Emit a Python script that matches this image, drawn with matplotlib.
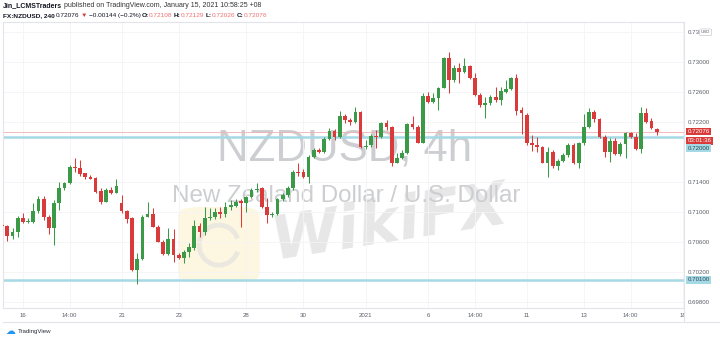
import matplotlib
matplotlib.use("Agg")
import matplotlib.pyplot as plt
from matplotlib.patches import Rectangle, FancyBboxPatch, Arc
from matplotlib.lines import Line2D

# 4h candles, NZDUSD, mid Dec 2020 -> 15 Jan 2021
opens = [
    0.70830, 0.70817, 0.70684, 0.70742, 0.70920, 0.70871, 0.70875, 0.71022, 0.71173, 0.70942,
    0.70795, 0.71120, 0.71320, 0.71386, 0.71608, 0.71586, 0.71520, 0.71475, 0.71453, 0.71288,
    0.71142, 0.71297, 0.71262, 0.71128, 0.71017, 0.70920, 0.70231, 0.70373, 0.70942, 0.70977,
    0.70808, 0.70608, 0.70440, 0.70640, 0.70431, 0.70386, 0.70475, 0.70520, 0.70817, 0.70742,
    0.70920, 0.70942, 0.71009, 0.70977, 0.71075, 0.71089, 0.71155, 0.71128, 0.71200, 0.71297,
    0.71320, 0.71075, 0.70964, 0.70977, 0.71173, 0.71231, 0.71320, 0.71542, 0.71542, 0.71475,
    0.71742, 0.71831, 0.71808, 0.71973, 0.72088, 0.71999, 0.72284, 0.72230, 0.72208, 0.72341,
    0.71866, 0.71897, 0.72017, 0.71999, 0.72195, 0.72133, 0.71661, 0.71719, 0.71786, 0.72177,
    0.72133, 0.71928, 0.72550, 0.72475, 0.72519, 0.72661, 0.73053, 0.72764, 0.72919, 0.72875,
    0.72950, 0.72786, 0.72564, 0.72430, 0.72453, 0.72541, 0.72497, 0.72608, 0.72639, 0.72786,
    0.72364, 0.72297, 0.71919, 0.71893, 0.71866, 0.71661, 0.71808, 0.71617, 0.71688, 0.71764,
    0.71897, 0.71661, 0.71919, 0.72133, 0.72341, 0.72239, 0.72008, 0.71808, 0.71955, 0.71777,
    0.71910, 0.72053, 0.72008, 0.71839, 0.72320, 0.72222, 0.72108,
]
highs = [
    0.70835, 0.70831, 0.70786, 0.70951, 0.70995, 0.70920, 0.71128, 0.71217, 0.71217, 0.70964,
    0.71164, 0.71408, 0.71408, 0.71631, 0.71720, 0.71697, 0.71528, 0.71497, 0.71475, 0.71320,
    0.71320, 0.71342, 0.71440, 0.71231, 0.71031, 0.70933, 0.70453, 0.70964, 0.71142, 0.71053,
    0.70831, 0.70631, 0.70786, 0.70773, 0.70453, 0.70497, 0.70586, 0.70897, 0.70853, 0.71075,
    0.71053, 0.71053, 0.71075, 0.71142, 0.71164, 0.71173, 0.71173, 0.71217, 0.71320, 0.71395,
    0.71342, 0.71186, 0.71009, 0.71186, 0.71253, 0.71351, 0.71564, 0.71653, 0.71573, 0.71764,
    0.71853, 0.71853, 0.72008, 0.72119, 0.72106, 0.72355, 0.72310, 0.72252, 0.72408, 0.72350,
    0.71964, 0.72044, 0.72097, 0.72208, 0.72230, 0.72150, 0.71795, 0.71830, 0.72195, 0.72284,
    0.72164, 0.72586, 0.72608, 0.72595, 0.72675, 0.73066, 0.73141, 0.72964, 0.72995, 0.73053,
    0.72964, 0.72861, 0.72586, 0.72541, 0.72564, 0.72666, 0.72675, 0.72764, 0.72799, 0.72844,
    0.72408, 0.72319, 0.72030, 0.72008, 0.71884, 0.71875, 0.71830, 0.71706, 0.71786, 0.71919,
    0.71928, 0.71942, 0.72310, 0.72386, 0.72364, 0.72252, 0.72030, 0.71986, 0.71986, 0.71942,
    0.72075, 0.72075, 0.72053, 0.72408, 0.72386, 0.72253, 0.72129,
]
lows = [
    0.70810, 0.70622, 0.70644, 0.70675, 0.70862, 0.70853, 0.70862, 0.70995, 0.70897, 0.70711,
    0.70560, 0.71031, 0.71297, 0.71377, 0.71542, 0.71484, 0.71440, 0.71440, 0.71253, 0.71111,
    0.71133, 0.71244, 0.71253, 0.70995, 0.70862, 0.70222, 0.70044, 0.70364, 0.70933, 0.70800,
    0.70600, 0.70431, 0.70431, 0.70333, 0.70377, 0.70328, 0.70400, 0.70497, 0.70675, 0.70697,
    0.70897, 0.70906, 0.70920, 0.70942, 0.71031, 0.71075, 0.70808, 0.71009, 0.71186, 0.71275,
    0.71053, 0.70853, 0.70942, 0.70964, 0.71155, 0.71209, 0.71297, 0.71484, 0.71453, 0.71386,
    0.71720, 0.71786, 0.71786, 0.71964, 0.71964, 0.71986, 0.72186, 0.72164, 0.72195, 0.71853,
    0.71839, 0.71875, 0.71853, 0.71986, 0.72097, 0.71617, 0.71652, 0.71706, 0.71777, 0.72106,
    0.71919, 0.71919, 0.72453, 0.72461, 0.72364, 0.72653, 0.72586, 0.72741, 0.72719, 0.72861,
    0.72773, 0.72550, 0.72408, 0.72253, 0.72430, 0.72475, 0.72430, 0.72586, 0.72630, 0.72297,
    0.72044, 0.71897, 0.71821, 0.71808, 0.71652, 0.71475, 0.71586, 0.71564, 0.71675, 0.71742,
    0.71644, 0.71586, 0.71897, 0.72119, 0.72208, 0.71986, 0.71741, 0.71675, 0.71764, 0.71750,
    0.71719, 0.71986, 0.71830, 0.71786, 0.72195, 0.72106, 0.72026,
]
closes = [
    0.70815, 0.70689, 0.70742, 0.70920, 0.70875, 0.70884, 0.71022, 0.71173, 0.70942, 0.70795,
    0.71128, 0.71320, 0.71386, 0.71600, 0.71586, 0.71506, 0.71475, 0.71448, 0.71275, 0.71137,
    0.71297, 0.71262, 0.71351, 0.71017, 0.70911, 0.70231, 0.70373, 0.70942, 0.70977, 0.70808,
    0.70608, 0.70440, 0.70640, 0.70431, 0.70386, 0.70475, 0.70533, 0.70817, 0.70742, 0.70920,
    0.70937, 0.71009, 0.70977, 0.71075, 0.71093, 0.71142, 0.71128, 0.71200, 0.71297, 0.71315,
    0.71075, 0.70964, 0.70977, 0.71173, 0.71231, 0.71320, 0.71542, 0.71520, 0.71475, 0.71742,
    0.71831, 0.71804, 0.71973, 0.72088, 0.71999, 0.72284, 0.72230, 0.72208, 0.72341, 0.71866,
    0.71884, 0.72017, 0.71999, 0.72195, 0.72133, 0.71661, 0.71719, 0.71786, 0.72177, 0.72133,
    0.71928, 0.72550, 0.72475, 0.72519, 0.72661, 0.73053, 0.72764, 0.72919, 0.72875, 0.72950,
    0.72786, 0.72564, 0.72430, 0.72461, 0.72541, 0.72497, 0.72621, 0.72639, 0.72786, 0.72355,
    0.72328, 0.71919, 0.71893, 0.71866, 0.71661, 0.71808, 0.71617, 0.71688, 0.71764, 0.71897,
    0.71661, 0.71919, 0.72133, 0.72341, 0.72239, 0.72008, 0.71808, 0.71955, 0.71777, 0.71910,
    0.72053, 0.72008, 0.71839, 0.72328, 0.72208, 0.72120, 0.72076,
]

date_ticks = [4, 13, 23, 34, 47, 58, 70, 82, 91, 101, 112, 121, 131]
date_labels = ["16", "14:00", "21", "23", "28", "30", "2021", "6", "14:00", "11", "13", "14:00", "18"]
price_ticks = [0.698, 0.702, 0.706, 0.710, 0.714, 0.722, 0.726, 0.730, 0.734]
support_levels = [0.720, 0.701]
last_price = 0.72076
countdown = "03:01:36"

W, H = 720, 342
GREEN = "#3b9a48"
RED = "#d93b3b"
LEVEL = "#a5d9e5"
AXIS_TXT = "#5d606b"
BORDER = "#e2e4ea"

plt.rcParams["font.family"] = ["Liberation Sans", "DejaVu Sans"]

fig = plt.figure(figsize=(W / 100, H / 100), dpi=100)
fig.patch.set_facecolor("white")

top_px, bot_px, left_px, right_px = 22, 308, 3, 684
ax = fig.add_axes([left_px / W, 1 - bot_px / H, (right_px - left_px) / W, (bot_px - top_px) / H])
ax.set_xlim(0.17, 131.26)
ax.set_ylim(0.69724, 0.735373)

# faint grid
ax.set_yticks(price_ticks)
ax.set_xticks(date_ticks)
ax.set_xticklabels(date_labels)
ax.grid(True, color="#f4f4f6", lw=0.6)
ax.set_axisbelow(True)
ax.tick_params(axis="y", left=False, labelleft=False)
ax.tick_params(axis="x", length=0, pad=3.3, labelsize=4.4, labelcolor=AXIS_TXT)
for s in ax.spines.values():
    s.set_color(BORDER)
    s.set_linewidth(0.8)

# watermarks (WikiFX overlay first, symbol texts above it)
ax.add_patch(FancyBboxPatch((0.257, 0.091), 0.12, 0.262, boxstyle="round,pad=0.0,rounding_size=0.03",
                            transform=ax.transAxes, fc="#fdf5dc", ec="none", alpha=0.85, zorder=0))
ax.add_patch(Arc((0.317, 0.22), 0.058, 0.14, theta1=40, theta2=320, transform=ax.transAxes,
                 color="#ebe8e0", lw=3.5, zorder=0))
ax.text(0.568, 0.292, "WikiFX", transform=ax.transAxes, ha="center", va="center", fontsize=44,
        fontweight="bold", fontstyle="italic", color="#e7e7e7", rotation=9, zorder=0,
        family="DejaVu Sans")
ax.text(0.502, 0.517, "NZDUSD, 4h", transform=ax.transAxes, ha="center", va="baseline",
        fontsize=31.5, color="#cdced1", zorder=0)
ax.text(0.504, 0.371, "New Zealand Dollar / U.S. Dollar", transform=ax.transAxes, ha="center",
        va="baseline", fontsize=17.4, color="#cdced1", zorder=0)

# levels
for lvl in support_levels:
    ax.axhline(lvl, color=LEVEL, lw=1.8, zorder=1)
ax.axhline(last_price, color="#f0b0b0", lw=0.6, zorder=1)

# candles
xs = list(range(len(opens)))
colors = [GREEN if c >= o else RED for o, c in zip(opens, closes)]
ax.vlines(xs, lows, highs, colors=colors, lw=0.75, zorder=2)
bottoms = [min(o, c) for o, c in zip(opens, closes)]
heights = [max(abs(c - o), 0.00008) for o, c in zip(opens, closes)]
ax.bar(xs, heights, bottom=bottoms, width=0.72, color=colors, linewidth=0, zorder=3)

# right price scale
ax2 = fig.add_axes([right_px / W, 1 - bot_px / H, (W - right_px) / W, (bot_px - top_px) / H])
ax2.set_xlim(0, 1)
ax2.set_ylim(ax.get_ylim())
ax2.set_xticks([])
ax2.set_yticks(price_ticks)
ax2.set_yticklabels([f"{p:.5f}" for p in price_ticks])
ax2.tick_params(axis="y", length=0, pad=-3, labelsize=4.4, labelcolor=AXIS_TXT)
for lab in ax2.get_yticklabels():
    lab.set_horizontalalignment("left")
for s in ax2.spines.values():
    s.set_visible(False)

box = dict(boxstyle="square,pad=0.22", ec="none")
ax2.text(0.1, last_price, f"{last_price:.5f}", color="white", fontsize=4.4, va="center",
         bbox=dict(box, fc=RED))
ax2.annotate(countdown, (0.1, last_price), xytext=(0, -6.7), textcoords="offset points",
             color="white", fontsize=4.4, va="center", bbox=dict(box, fc=RED))
ax2.annotate(f"{support_levels[0]:.5f}", (0.1, support_levels[0]), xytext=(0, -7.8),
             textcoords="offset points", color="#2a4a55", fontsize=4.4, va="center",
             bbox=dict(box, fc=LEVEL))
ax2.text(0.1, support_levels[1], f"{support_levels[1]:.5f}", color="#2a4a55", fontsize=4.4,
         va="center", bbox=dict(box, fc=LEVEL))
ax2.text(0.6, price_ticks[-1], "USD", color=AXIS_TXT, fontsize=3.2, ha="center", va="center",
         bbox=dict(boxstyle="round,pad=0.3", fc="white", ec="#c8cad0", lw=0.5))

# frame lines of the time scale and the price scale
fig.add_artist(Rectangle((right_px / W, 1 - 322 / H), (W - right_px) / W, 14 / H,
                         transform=fig.transFigure, fc="white", ec="none", zorder=5))
fig.add_artist(Line2D([right_px / W] * 2, [1 - 322 / H, 1 - top_px / H], color=BORDER, lw=0.8, zorder=6))
fig.add_artist(Line2D([left_px / W, 1], [1 - 322 / H] * 2, color=BORDER, lw=0.8, zorder=6))


# header
def draw_runs(x_px, y_px, runs, size):
    renderer = fig.canvas.get_renderer()
    x = x_px
    for text, color, weight, gap in runs:
        t = fig.text(x / W, 1 - y_px / H, text, color=color, fontweight=weight, fontsize=size,
                     ha="left", va="center")
        x += t.get_window_extent(renderer).width + gap


DARK = "#131722"
PINK = "#ef7070"
draw_runs(3, 5.5, [("Jin_LCMSTraders", DARK, "bold", 1.5),
                   ("published on TradingView.com, January 15, 2021 10:58:25 +08", "#333", "normal", 0)], 5.0)
draw_runs(3, 15.5, [("FX:NZDUSD, 240", DARK, "bold", 1.5),
                    ("0.72076", DARK, "normal", 1.2),
                    ("▼", RED, "normal", 1.2),
                    ("\u22120.00144 (\u22120.2%)", DARK, "normal", 1.5),
                    ("O:", DARK, "bold", 0), ("0.72108", PINK, "normal", 1.5),
                    ("H:", DARK, "bold", 0), ("0.72129", PINK, "normal", 1.5),
                    ("L:", DARK, "bold", 0), ("0.72026", PINK, "normal", 1.5),
                    ("C:", DARK, "bold", 0), ("0.72076", PINK, "normal", 0)], 4.65)

# TradingView badge
fig.text(18 / W, 1 - 332 / H, "TradingView", fontsize=4.4, color="#2a2e39", ha="left", va="center")
fig.text(10 / W, 1 - 331 / H, "\u2601", fontsize=7, color="#2196f3", ha="center", va="center",
         family="DejaVu Sans")

fig.savefig("out.png", dpi=100)
